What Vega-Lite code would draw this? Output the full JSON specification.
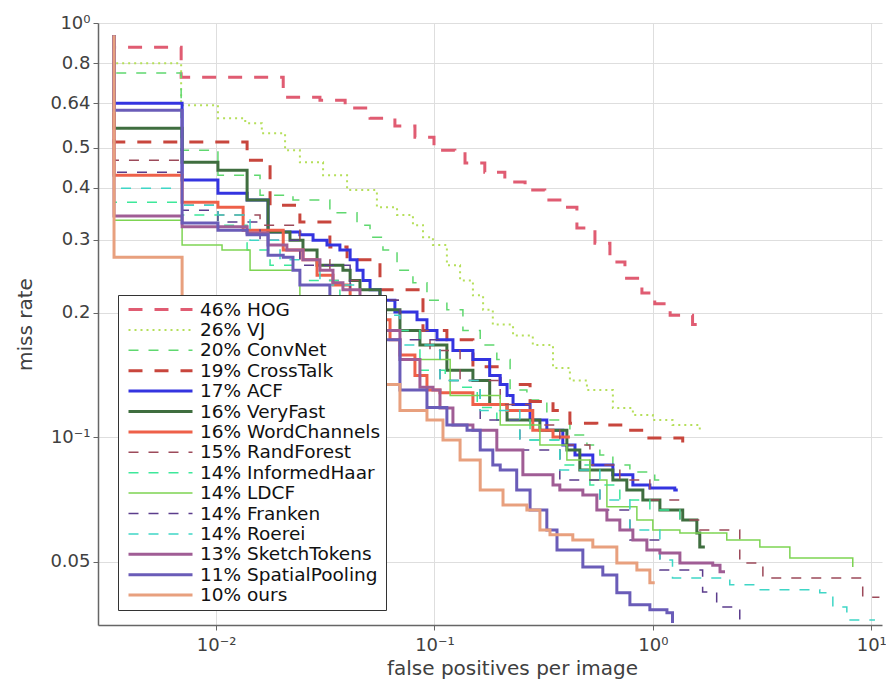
{
"$schema": "https://vega.github.io/schema/vega-lite/v6.json",
"width": 784, "height": 602,
"autosize": {"type": "none"},
"padding": {"left": 98, "top": 23, "right": 4, "bottom": 58},
"background": "white",
"config": {"font": "DejaVu Sans", "view": {"stroke": null}},
"datasets": {"d": [
{"m":"46% HOG","x":0.00341,"y":0.934},{"m":"46% HOG","x":0.00341,"y":0.874},{"m":"46% HOG","x":0.00692,"y":0.740},{"m":"46% HOG","x":0.0203,"y":0.662},{"m":"46% HOG","x":0.0299,"y":0.651},{"m":"46% HOG","x":0.0390,"y":0.623},{"m":"46% HOG","x":0.0507,"y":0.589},{"m":"46% HOG","x":0.0659,"y":0.564},{"m":"46% HOG","x":0.0814,"y":0.530},{"m":"46% HOG","x":0.0995,"y":0.493},{"m":"46% HOG","x":0.124,"y":0.488},{"m":"46% HOG","x":0.138,"y":0.459},{"m":"46% HOG","x":0.170,"y":0.436},{"m":"46% HOG","x":0.210,"y":0.413},{"m":"46% HOG","x":0.260,"y":0.395},{"m":"46% HOG","x":0.320,"y":0.374},{"m":"46% HOG","x":0.387,"y":0.359},{"m":"46% HOG","x":0.449,"y":0.320},{"m":"46% HOG","x":0.543,"y":0.294},{"m":"46% HOG","x":0.636,"y":0.265},{"m":"46% HOG","x":0.745,"y":0.242},{"m":"46% HOG","x":0.891,"y":0.223},{"m":"46% HOG","x":1.02,"y":0.210},{"m":"46% HOG","x":1.20,"y":0.197},{"m":"46% HOG","x":1.52,"y":0.187},{"m":"46% HOG","x":1.59,"y":0.187},
{"m":"26% VJ","x":0.00341,"y":0.934},{"m":"26% VJ","x":0.00341,"y":0.800},{"m":"26% VJ","x":0.00692,"y":0.633},{"m":"26% VJ","x":0.0102,"y":0.589},{"m":"26% VJ","x":0.0136,"y":0.573},{"m":"26% VJ","x":0.0162,"y":0.542},{"m":"26% VJ","x":0.0207,"y":0.493},{"m":"26% VJ","x":0.0242,"y":0.461},{"m":"26% VJ","x":0.0309,"y":0.429},{"m":"26% VJ","x":0.0398,"y":0.395},{"m":"26% VJ","x":0.0545,"y":0.359},{"m":"26% VJ","x":0.0674,"y":0.344},{"m":"26% VJ","x":0.0797,"y":0.325},{"m":"26% VJ","x":0.0886,"y":0.304},{"m":"26% VJ","x":0.0984,"y":0.291},{"m":"26% VJ","x":0.114,"y":0.260},{"m":"26% VJ","x":0.131,"y":0.239},{"m":"26% VJ","x":0.150,"y":0.220},{"m":"26% VJ","x":0.167,"y":0.203},{"m":"26% VJ","x":0.185,"y":0.187},{"m":"26% VJ","x":0.229,"y":0.176},{"m":"26% VJ","x":0.282,"y":0.167},{"m":"26% VJ","x":0.349,"y":0.147},{"m":"26% VJ","x":0.417,"y":0.137},{"m":"26% VJ","x":0.499,"y":0.130},{"m":"26% VJ","x":0.656,"y":0.1176},{"m":"26% VJ","x":0.810,"y":0.1131},{"m":"26% VJ","x":1.0,"y":0.110},{"m":"26% VJ","x":1.23,"y":0.107},{"m":"26% VJ","x":1.64,"y":0.1023},
{"m":"20% ConvNet","x":0.00341,"y":0.934},{"m":"20% ConvNet","x":0.00341,"y":0.757},{"m":"20% ConvNet","x":0.00692,"y":0.493},{"m":"20% ConvNet","x":0.0102,"y":0.429},{"m":"20% ConvNet","x":0.0159,"y":0.384},{"m":"20% ConvNet","x":0.0225,"y":0.374},{"m":"20% ConvNet","x":0.0332,"y":0.348},{"m":"20% ConvNet","x":0.0442,"y":0.325},{"m":"20% ConvNet","x":0.0507,"y":0.304},{"m":"20% ConvNet","x":0.0581,"y":0.283},{"m":"20% ConvNet","x":0.0674,"y":0.253},{"m":"20% ConvNet","x":0.0797,"y":0.236},{"m":"20% ConvNet","x":0.0924,"y":0.214},{"m":"20% ConvNet","x":0.114,"y":0.203},{"m":"20% ConvNet","x":0.135,"y":0.181},{"m":"20% ConvNet","x":0.162,"y":0.167},{"m":"20% ConvNet","x":0.193,"y":0.154},{"m":"20% ConvNet","x":0.222,"y":0.130},{"m":"20% ConvNet","x":0.265,"y":0.123},{"m":"20% ConvNet","x":0.327,"y":0.110},{"m":"20% ConvNet","x":0.417,"y":0.1012},{"m":"20% ConvNet","x":0.499,"y":0.0957},{"m":"20% ConvNet","x":0.572,"y":0.0906},{"m":"20% ConvNet","x":0.656,"y":0.0857},{"m":"20% ConvNet","x":0.785,"y":0.0824},{"m":"20% ConvNet","x":1.02,"y":0.0788},{"m":"20% ConvNet","x":1.077,"y":0.0788},
{"m":"19% CrossTalk","x":0.00341,"y":0.934},{"m":"19% CrossTalk","x":0.00341,"y":0.516},{"m":"19% CrossTalk","x":0.01387,"y":0.466},{"m":"19% CrossTalk","x":0.01767,"y":0.363},{"m":"19% CrossTalk","x":0.0242,"y":0.331},{"m":"19% CrossTalk","x":0.0332,"y":0.288},{"m":"19% CrossTalk","x":0.0398,"y":0.268},{"m":"19% CrossTalk","x":0.0563,"y":0.227},{"m":"19% CrossTalk","x":0.0886,"y":0.181},{"m":"19% CrossTalk","x":0.114,"y":0.172},{"m":"19% CrossTalk","x":0.150,"y":0.148},{"m":"19% CrossTalk","x":0.200,"y":0.134},{"m":"19% CrossTalk","x":0.274,"y":0.122},{"m":"19% CrossTalk","x":0.349,"y":0.116},{"m":"19% CrossTalk","x":0.417,"y":0.108},{"m":"19% CrossTalk","x":0.554,"y":0.107},{"m":"19% CrossTalk","x":0.729,"y":0.104},{"m":"19% CrossTalk","x":0.939,"y":0.0996},{"m":"19% CrossTalk","x":1.37,"y":0.0968},{"m":"19% CrossTalk","x":1.48,"y":0.0968},
{"m":"17% ACF","x":0.00341,"y":0.934},{"m":"17% ACF","x":0.00341,"y":0.640},{"m":"17% ACF","x":0.00699,"y":0.418},{"m":"17% ACF","x":0.0102,"y":0.388},{"m":"17% ACF","x":0.01387,"y":0.374},{"m":"17% ACF","x":0.0173,"y":0.313},{"m":"17% ACF","x":0.0242,"y":0.308},{"m":"17% ACF","x":0.0278,"y":0.299},{"m":"17% ACF","x":0.0322,"y":0.291},{"m":"17% ACF","x":0.0369,"y":0.283},{"m":"17% ACF","x":0.0411,"y":0.268},{"m":"17% ACF","x":0.0442,"y":0.253},{"m":"17% ACF","x":0.0471,"y":0.239},{"m":"17% ACF","x":0.0507,"y":0.227},{"m":"17% ACF","x":0.0563,"y":0.214},{"m":"17% ACF","x":0.0659,"y":0.2005},{"m":"17% ACF","x":0.0832,"y":0.192},{"m":"17% ACF","x":0.0924,"y":0.181},{"m":"17% ACF","x":0.1027,"y":0.172},{"m":"17% ACF","x":0.1215,"y":0.162},{"m":"17% ACF","x":0.150,"y":0.154},{"m":"17% ACF","x":0.179,"y":0.141},{"m":"17% ACF","x":0.200,"y":0.134},{"m":"17% ACF","x":0.215,"y":0.126},{"m":"17% ACF","x":0.229,"y":0.120},{"m":"17% ACF","x":0.274,"y":0.110},{"m":"17% ACF","x":0.327,"y":0.104},{"m":"17% ACF","x":0.387,"y":0.0957},{"m":"17% ACF","x":0.440,"y":0.0906},{"m":"17% ACF","x":0.531,"y":0.0857},{"m":"17% ACF","x":0.656,"y":0.0811},{"m":"17% ACF","x":0.810,"y":0.0767},{"m":"17% ACF","x":0.969,"y":0.0754},{"m":"17% ACF","x":1.26,"y":0.0746},{"m":"17% ACF","x":1.30,"y":0.0746},
{"m":"16% VeryFast","x":0.00341,"y":0.934},{"m":"16% VeryFast","x":0.00341,"y":0.557},{"m":"16% VeryFast","x":0.00699,"y":0.461},{"m":"16% VeryFast","x":0.0102,"y":0.441},{"m":"16% VeryFast","x":0.01387,"y":0.374},{"m":"16% VeryFast","x":0.0173,"y":0.313},{"m":"16% VeryFast","x":0.0218,"y":0.299},{"m":"16% VeryFast","x":0.0250,"y":0.283},{"m":"16% VeryFast","x":0.0290,"y":0.260},{"m":"16% VeryFast","x":0.0381,"y":0.253},{"m":"16% VeryFast","x":0.0411,"y":0.239},{"m":"16% VeryFast","x":0.0456,"y":0.227},{"m":"16% VeryFast","x":0.0563,"y":0.203},{"m":"16% VeryFast","x":0.0695,"y":0.181},{"m":"16% VeryFast","x":0.0858,"y":0.167},{"m":"16% VeryFast","x":0.114,"y":0.145},{"m":"16% VeryFast","x":0.150,"y":0.137},{"m":"16% VeryFast","x":0.179,"y":0.120},{"m":"16% VeryFast","x":0.215,"y":0.110},{"m":"16% VeryFast","x":0.304,"y":0.104},{"m":"16% VeryFast","x":0.404,"y":0.0931},{"m":"16% VeryFast","x":0.463,"y":0.0833},{"m":"16% VeryFast","x":0.656,"y":0.0788},{"m":"16% VeryFast","x":0.760,"y":0.0746},{"m":"16% VeryFast","x":0.900,"y":0.0705},{"m":"16% VeryFast","x":1.077,"y":0.0667},{"m":"16% VeryFast","x":1.37,"y":0.0631},{"m":"16% VeryFast","x":1.59,"y":0.0587},{"m":"16% VeryFast","x":1.64,"y":0.0543},{"m":"16% VeryFast","x":1.73,"y":0.0543},
{"m":"16% WordChannels","x":0.00341,"y":0.934},{"m":"16% WordChannels","x":0.00341,"y":0.429},{"m":"16% WordChannels","x":0.00699,"y":0.369},{"m":"16% WordChannels","x":0.0102,"y":0.359},{"m":"16% WordChannels","x":0.0133,"y":0.316},{"m":"16% WordChannels","x":0.0203,"y":0.283},{"m":"16% WordChannels","x":0.0250,"y":0.268},{"m":"16% WordChannels","x":0.0290,"y":0.246},{"m":"16% WordChannels","x":0.0343,"y":0.233},{"m":"16% WordChannels","x":0.0411,"y":0.214},{"m":"16% WordChannels","x":0.0507,"y":0.192},{"m":"16% WordChannels","x":0.0626,"y":0.172},{"m":"16% WordChannels","x":0.0695,"y":0.158},{"m":"16% WordChannels","x":0.0814,"y":0.141},{"m":"16% WordChannels","x":0.0924,"y":0.130},{"m":"16% WordChannels","x":0.106,"y":0.128},{"m":"16% WordChannels","x":0.150,"y":0.120},{"m":"16% WordChannels","x":0.215,"y":0.116},{"m":"16% WordChannels","x":0.282,"y":0.104},{"m":"16% WordChannels","x":0.349,"y":0.1001},{"m":"16% WordChannels","x":0.417,"y":0.1001},
{"m":"15% RandForest","x":0.00341,"y":0.934},{"m":"15% RandForest","x":0.00341,"y":0.466},{"m":"15% RandForest","x":0.00699,"y":0.363},{"m":"15% RandForest","x":0.0102,"y":0.344},{"m":"15% RandForest","x":0.0159,"y":0.325},{"m":"15% RandForest","x":0.0242,"y":0.268},{"m":"15% RandForest","x":0.0332,"y":0.239},{"m":"15% RandForest","x":0.0456,"y":0.214},{"m":"15% RandForest","x":0.0695,"y":0.181},{"m":"15% RandForest","x":0.0954,"y":0.162},{"m":"15% RandForest","x":0.131,"y":0.137},{"m":"15% RandForest","x":0.200,"y":0.120},{"m":"15% RandForest","x":0.274,"y":0.107},{"m":"15% RandForest","x":0.375,"y":0.0957},{"m":"15% RandForest","x":0.515,"y":0.0857},{"m":"15% RandForest","x":0.706,"y":0.0788},{"m":"15% RandForest","x":0.969,"y":0.0705},{"m":"15% RandForest","x":1.33,"y":0.0631},{"m":"15% RandForest","x":1.64,"y":0.0597},{"m":"15% RandForest","x":2.50,"y":0.0497},{"m":"15% RandForest","x":3.19,"y":0.0457},{"m":"15% RandForest","x":9.14,"y":0.0411},{"m":"15% RandForest","x":10.9,"y":0.0411},
{"m":"14% InformedHaar","x":0.00341,"y":0.934},{"m":"14% InformedHaar","x":0.00341,"y":0.369},{"m":"14% InformedHaar","x":0.00699,"y":0.344},{"m":"14% InformedHaar","x":0.0102,"y":0.325},{"m":"14% InformedHaar","x":0.01387,"y":0.283},{"m":"14% InformedHaar","x":0.01767,"y":0.260},{"m":"14% InformedHaar","x":0.0242,"y":0.239},{"m":"14% InformedHaar","x":0.0369,"y":0.214},{"m":"14% InformedHaar","x":0.0563,"y":0.181},{"m":"14% InformedHaar","x":0.0858,"y":0.145},{"m":"14% InformedHaar","x":0.112,"y":0.137},{"m":"14% InformedHaar","x":0.131,"y":0.132},{"m":"14% InformedHaar","x":0.157,"y":0.118},{"m":"14% InformedHaar","x":0.193,"y":0.110},{"m":"14% InformedHaar","x":0.274,"y":0.0985},{"m":"14% InformedHaar","x":0.375,"y":0.0857},{"m":"14% InformedHaar","x":0.515,"y":0.0767},{"m":"14% InformedHaar","x":0.706,"y":0.0705},{"m":"14% InformedHaar","x":0.969,"y":0.0667},{"m":"14% InformedHaar","x":1.33,"y":0.0631},
{"m":"14% LDCF","x":0.00341,"y":0.934},{"m":"14% LDCF","x":0.00341,"y":0.334},{"m":"14% LDCF","x":0.00699,"y":0.291},{"m":"14% LDCF","x":0.01065,"y":0.283},{"m":"14% LDCF","x":0.01431,"y":0.253},{"m":"14% LDCF","x":0.0242,"y":0.214},{"m":"14% LDCF","x":0.0411,"y":0.181},{"m":"14% LDCF","x":0.0695,"y":0.154},{"m":"14% LDCF","x":0.118,"y":0.126},{"m":"14% LDCF","x":0.200,"y":0.107},{"m":"14% LDCF","x":0.304,"y":0.0957},{"m":"14% LDCF","x":0.404,"y":0.0881},{"m":"14% LDCF","x":0.515,"y":0.0788},{"m":"14% LDCF","x":0.616,"y":0.0679},{"m":"14% LDCF","x":0.845,"y":0.0631},{"m":"14% LDCF","x":1.0,"y":0.0597},{"m":"14% LDCF","x":1.33,"y":0.0587},{"m":"14% LDCF","x":2.18,"y":0.0565},{"m":"14% LDCF","x":3.09,"y":0.0543},{"m":"14% LDCF","x":4.24,"y":0.0511},{"m":"14% LDCF","x":8.23,"y":0.0486},
{"m":"14% Franken","x":0.00341,"y":0.934},{"m":"14% Franken","x":0.00341,"y":0.436},{"m":"14% Franken","x":0.00699,"y":0.353},{"m":"14% Franken","x":0.0102,"y":0.331},{"m":"14% Franken","x":0.0159,"y":0.299},{"m":"14% Franken","x":0.0242,"y":0.260},{"m":"14% Franken","x":0.0411,"y":0.214},{"m":"14% Franken","x":0.0695,"y":0.172},{"m":"14% Franken","x":0.106,"y":0.137},{"m":"14% Franken","x":0.162,"y":0.110},{"m":"14% Franken","x":0.246,"y":0.0931},{"m":"14% Franken","x":0.375,"y":0.0788},{"m":"14% Franken","x":0.572,"y":0.0667},{"m":"14% Franken","x":0.785,"y":0.0565},{"m":"14% Franken","x":1.077,"y":0.0478},{"m":"14% Franken","x":1.69,"y":0.0423},{"m":"14% Franken","x":1.96,"y":0.0389},{"m":"14% Franken","x":2.50,"y":0.0356},
{"m":"14% Roerei","x":0.00341,"y":0.934},{"m":"14% Roerei","x":0.00341,"y":0.399},{"m":"14% Roerei","x":0.00699,"y":0.363},{"m":"14% Roerei","x":0.0102,"y":0.344},{"m":"14% Roerei","x":0.01431,"y":0.299},{"m":"14% Roerei","x":0.01963,"y":0.268},{"m":"14% Roerei","x":0.0299,"y":0.233},{"m":"14% Roerei","x":0.0456,"y":0.197},{"m":"14% Roerei","x":0.0695,"y":0.167},{"m":"14% Roerei","x":0.106,"y":0.137},{"m":"14% Roerei","x":0.162,"y":0.116},{"m":"14% Roerei","x":0.246,"y":0.0985},{"m":"14% Roerei","x":0.375,"y":0.0833},{"m":"14% Roerei","x":0.572,"y":0.0705},{"m":"14% Roerei","x":0.785,"y":0.0597},{"m":"14% Roerei","x":1.077,"y":0.0505},{"m":"14% Roerei","x":1.23,"y":0.0457},{"m":"14% Roerei","x":2.25,"y":0.0440},{"m":"14% Roerei","x":2.99,"y":0.0428},{"m":"14% Roerei","x":5.81,"y":0.0421},{"m":"14% Roerei","x":6.67,"y":0.0389},{"m":"14% Roerei","x":7.73,"y":0.0362},{"m":"14% Roerei","x":10.4,"y":0.0362},
{"m":"13% SketchTokens","x":0.00341,"y":0.934},{"m":"13% SketchTokens","x":0.00341,"y":0.342},{"m":"13% SketchTokens","x":0.00699,"y":0.322},{"m":"13% SketchTokens","x":0.01387,"y":0.311},{"m":"13% SketchTokens","x":0.0173,"y":0.291},{"m":"13% SketchTokens","x":0.0211,"y":0.283},{"m":"13% SketchTokens","x":0.0250,"y":0.268},{"m":"13% SketchTokens","x":0.0299,"y":0.253},{"m":"13% SketchTokens","x":0.0343,"y":0.236},{"m":"13% SketchTokens","x":0.0381,"y":0.227},{"m":"13% SketchTokens","x":0.0456,"y":0.203},{"m":"13% SketchTokens","x":0.0563,"y":0.181},{"m":"13% SketchTokens","x":0.0695,"y":0.154},{"m":"13% SketchTokens","x":0.0858,"y":0.132},{"m":"13% SketchTokens","x":0.0984,"y":0.130},{"m":"13% SketchTokens","x":0.106,"y":0.1176},{"m":"13% SketchTokens","x":0.1215,"y":0.107},{"m":"13% SketchTokens","x":0.150,"y":0.104},{"m":"13% SketchTokens","x":0.193,"y":0.0931},{"m":"13% SketchTokens","x":0.254,"y":0.0811},{"m":"13% SketchTokens","x":0.349,"y":0.0767},{"m":"13% SketchTokens","x":0.375,"y":0.0746},{"m":"13% SketchTokens","x":0.478,"y":0.0725},{"m":"13% SketchTokens","x":0.554,"y":0.0667},{"m":"13% SketchTokens","x":0.616,"y":0.0631},{"m":"13% SketchTokens","x":0.706,"y":0.0597},{"m":"13% SketchTokens","x":0.810,"y":0.0565},{"m":"13% SketchTokens","x":0.939,"y":0.0534},{"m":"13% SketchTokens","x":1.077,"y":0.0525},{"m":"13% SketchTokens","x":1.33,"y":0.0497},{"m":"13% SketchTokens","x":1.88,"y":0.0491},{"m":"13% SketchTokens","x":2.03,"y":0.0473},{"m":"13% SketchTokens","x":2.14,"y":0.0473},
{"m":"11% SpatialPooling","x":0.00341,"y":0.934},{"m":"11% SpatialPooling","x":0.00341,"y":0.616},{"m":"11% SpatialPooling","x":0.00699,"y":0.329},{"m":"11% SpatialPooling","x":0.0102,"y":0.316},{"m":"11% SpatialPooling","x":0.01387,"y":0.308},{"m":"11% SpatialPooling","x":0.0173,"y":0.275},{"m":"11% SpatialPooling","x":0.0203,"y":0.272},{"m":"11% SpatialPooling","x":0.0225,"y":0.253},{"m":"11% SpatialPooling","x":0.0242,"y":0.233},{"m":"11% SpatialPooling","x":0.0332,"y":0.203},{"m":"11% SpatialPooling","x":0.0456,"y":0.172},{"m":"11% SpatialPooling","x":0.0695,"y":0.130},{"m":"11% SpatialPooling","x":0.0924,"y":0.118},{"m":"11% SpatialPooling","x":0.114,"y":0.107},{"m":"11% SpatialPooling","x":0.141,"y":0.104},{"m":"11% SpatialPooling","x":0.162,"y":0.0931},{"m":"11% SpatialPooling","x":0.185,"y":0.0857},{"m":"11% SpatialPooling","x":0.200,"y":0.0833},{"m":"11% SpatialPooling","x":0.238,"y":0.0746},{"m":"11% SpatialPooling","x":0.274,"y":0.0667},{"m":"11% SpatialPooling","x":0.327,"y":0.0597},{"m":"11% SpatialPooling","x":0.364,"y":0.0534},{"m":"11% SpatialPooling","x":0.478,"y":0.0486},{"m":"11% SpatialPooling","x":0.590,"y":0.0465},{"m":"11% SpatialPooling","x":0.684,"y":0.0421},{"m":"11% SpatialPooling","x":0.785,"y":0.0394},{"m":"11% SpatialPooling","x":0.969,"y":0.0383},{"m":"11% SpatialPooling","x":1.16,"y":0.0377},{"m":"11% SpatialPooling","x":1.23,"y":0.0356},
{"m":"10% ours","x":0.00341,"y":0.934},{"m":"10% ours","x":0.00341,"y":0.272},{"m":"10% ours","x":0.00699,"y":0.203},{"m":"10% ours","x":0.01431,"y":0.176},{"m":"10% ours","x":0.0242,"y":0.154},{"m":"10% ours","x":0.0411,"y":0.134},{"m":"10% ours","x":0.0695,"y":0.116},{"m":"10% ours","x":0.0924,"y":0.110},{"m":"10% ours","x":0.1094,"y":0.0985},{"m":"10% ours","x":0.131,"y":0.0881},{"m":"10% ours","x":0.162,"y":0.0746},{"m":"10% ours","x":0.206,"y":0.0686},{"m":"10% ours","x":0.265,"y":0.0667},{"m":"10% ours","x":0.304,"y":0.0597},{"m":"10% ours","x":0.338,"y":0.0581},{"m":"10% ours","x":0.430,"y":0.0565},{"m":"10% ours","x":0.531,"y":0.0543},{"m":"10% ours","x":0.684,"y":0.0497},{"m":"10% ours","x":0.845,"y":0.0478},{"m":"10% ours","x":0.969,"y":0.0445},{"m":"10% ours","x":1.02,"y":0.0445}
]},
"data": {"name": "d"},
"mark": {"type": "line", "interpolate": "step-after", "clip": true},
"encoding": {
  "x": {"field": "x", "type": "quantitative",
    "scale": {"type": "log", "domain": [0.00288, 11.2], "nice": false},
    "axis": {"values": [0.01, 0.1, 1, 10],
      "labelExpr": "datum.value < 0.05 ? '10⁻²' : datum.value < 0.5 ? '10⁻¹' : datum.value < 5 ? '10⁰' : '10¹'",
      "title": "false positives per image", "titleX": 414,
      "grid": true, "gridColor": "#dedede", "gridWidth": 1,
      "domainColor": "#666", "domainWidth": 1.5, "tickColor": "#666", "tickSize": 5,
      "labelFont": "DejaVu Sans", "labelFontSize": 18, "labelColor": "#404040", "labelPadding": 6,
      "titleFont": "DejaVu Sans", "titleFontSize": 20, "titleFontWeight": "normal", "titleColor": "#404040", "titlePadding": 4}},
  "y": {"field": "y", "type": "quantitative",
    "scale": {"type": "log", "domain": [0.0352, 1], "nice": false},
    "axis": {"values": [0.05, 0.1, 0.2, 0.3, 0.4, 0.5, 0.64, 0.8, 1],
      "labelExpr": "datum.value == 1 ? '10⁰' : datum.value == 0.1 ? '10⁻¹' : '' + datum.value",
      "title": "miss rate",
      "grid": true, "gridColor": "#dedede", "gridWidth": 1,
      "domainColor": "#666", "domainWidth": 1.5, "tickColor": "#666", "tickSize": 5,
      "labelFont": "DejaVu Sans", "labelFontSize": 18, "labelColor": "#404040", "labelPadding": 3,
      "titleFont": "DejaVu Sans", "titleFontSize": 20, "titleFontWeight": "normal", "titleColor": "#404040", "titlePadding": 14}},
  "color": {"field": "m", "type": "nominal",
    "scale": {"domain": ["46% HOG","26% VJ","20% ConvNet","19% CrossTalk","17% ACF","16% VeryFast","16% WordChannels","15% RandForest","14% InformedHaar","14% LDCF","14% Franken","14% Roerei","13% SketchTokens","11% SpatialPooling","10% ours"],
      "range": ["#e05c72","#b5df5a","#5fd86f","#c8463d","#3434e0","#3f6e3f","#ee6049","#9c4a5a","#3de89a","#7dd452","#5b3c8c","#3fd6c6","#a05d95","#6a5cb8","#e8a07e"]},
    "legend": {"title": null, "orient": "none", "legendX": 20, "legendY": 272,
      "fillColor": "white", "strokeColor": "#333", "padding": 5,
      "symbolType": "stroke", "symbolSize": 4096, "symbolOffset": 4, "clipHeight": 19, "rowPadding": 1.4,
      "labelFont": "DejaVu Sans", "labelFontSize": 18.5, "labelColor": "#111", "labelOffset": 6, "labelLimit": 400}},
  "strokeDash": {"field": "m", "type": "nominal",
    "scale": {"domain": ["46% HOG","26% VJ","20% ConvNet","19% CrossTalk","17% ACF","16% VeryFast","16% WordChannels","15% RandForest","14% InformedHaar","14% LDCF","14% Franken","14% Roerei","13% SketchTokens","11% SpatialPooling","10% ours"],
      "range": [[14,12],[2,4],[10,10],[14,12],[1,0],[1,0],[1,0],[10,10],[10,10],[1,0],[10,10],[10,10],[1,0],[1,0],[1,0]]},
    "legend": {"title": null, "orient": "none", "legendX": 20, "legendY": 272}},
  "strokeWidth": {"field": "m", "type": "nominal",
    "scale": {"type": "ordinal", "domain": ["46% HOG","26% VJ","20% ConvNet","19% CrossTalk","17% ACF","16% VeryFast","16% WordChannels","15% RandForest","14% InformedHaar","14% LDCF","14% Franken","14% Roerei","13% SketchTokens","11% SpatialPooling","10% ours"],
      "range": [3,2,1.5,3,3,3,3,1.5,1.5,1.5,1.5,1.5,3,3,3]},
    "legend": {"title": null, "orient": "none", "legendX": 20, "legendY": 272}},
  "order": [{"field": "x", "type": "quantitative"}, {"field": "y", "type": "quantitative", "sort": "descending"}]
}
}
